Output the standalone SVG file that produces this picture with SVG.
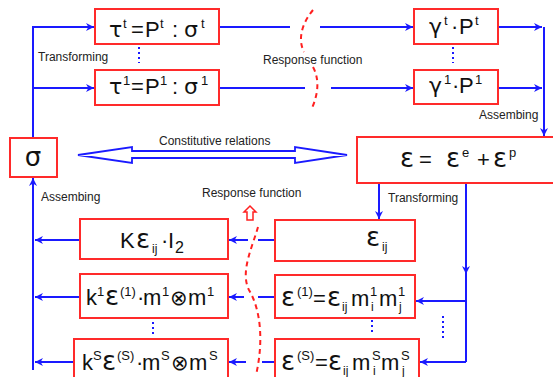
<svg xmlns="http://www.w3.org/2000/svg" width="553" height="377" viewBox="0 0 553 377">
<defs>
<marker id="ah" viewBox="0 0 10 10" refX="10" refY="5" markerWidth="9" markerHeight="8" orient="auto" markerUnits="userSpaceOnUse"><path d="M0,0 L10,5 L0,10 L3,5 z" fill="#1a1aff"/></marker>
<style>
.box{fill:#fff;stroke:#ff2a2a;stroke-width:2}
.ln{stroke:#1a1aff;stroke-width:2;fill:none}
.ar{marker-end:url(#ah)}
.red{stroke:#ff2020;stroke-width:2;stroke-dasharray:5,4;fill:none}
.dots{stroke:#1a1aff;stroke-width:2;stroke-dasharray:2,3}
.lbl{font-family:"Liberation Sans",Arial,sans-serif;font-size:12px;fill:#222}
.f{font-family:"Liberation Sans","DejaVu Sans",sans-serif;font-size:22px;fill:#111}
.gk{font-family:"DejaVu Sans",sans-serif;font-size:22px}
.g{font-family:"DejaVu Sans",sans-serif;font-size:26px}
.sp{font-size:13px}
.sb{font-size:12px}
.ot{font-family:"DejaVu Sans",sans-serif;font-size:21px}
</style>
</defs>
<rect width="553" height="377" fill="#fff"/>
<g id="connectors">
<path class="ln" d="M33 138 V27 H94"/>
<path class="ln ar" d="M33 27 H94"/>
<path class="ln ar" d="M33 88 H94"/>
<path class="ln ar" d="M33 370 V178"/>
<path class="ln ar" d="M80 240 H35"/>
<path class="ln ar" d="M80 297 H35"/>
<path class="ln ar" d="M74 362 H35"/>
<path class="ln" d="M219 27 H290"/>
<path class="ln ar" d="M320 27 H413"/>
<path class="ln" d="M219 88 H305"/>
<path class="ln ar" d="M331 88 H413"/>
<path class="ln ar" d="M498 27 H542"/>
<path class="ln ar" d="M498 88 H542"/>
<path class="ln ar" d="M544 27 V136"/>
<path class="ln ar" d="M379 183 V219"/>
<path class="ln ar" d="M466 183 V274"/>
<path class="ln" d="M466 272 V362"/>
<path class="ln ar" d="M466 301 H416"/>
<path class="ln ar" d="M466 362 H420"/>
<path class="ln" d="M275 240 H258"/>
<path class="ln ar" d="M248 240 H229"/>
<path class="ln" d="M275 297 H258"/>
<path class="ln ar" d="M244 297 H229"/>
<path class="ln" d="M275 362 H262"/>
<path class="ln ar" d="M246 362 H229"/>
<polygon points="78,155 132,147 132,151 295,151 295,147 347,155 295,163 295,158 132,158 132,163" fill="#fff" stroke="#1a1aff" stroke-width="1.8" stroke-linejoin="miter"/>
<path class="red" d="M313 10 C303 22, 297 38, 304 52"/>
<path class="red" d="M313 67 C319 78, 319 92, 312 108"/>
<path class="red" d="M258 227 C252 248, 240 272, 249 290 C262 312, 263 345, 256 375"/>
<polygon points="250,206 256,212 253,212 253,220 247,220 247,212 244,212" fill="#fff" stroke="#ff2020" stroke-width="1.5"/>
<path class="dots" d="M139 47 V63"/>
<path class="dots" d="M453 47 V63"/>
<path class="dots" d="M153 322 V334"/>
<path class="dots" d="M372 320 V335"/>
<path class="dots" d="M443 316 V341"/>
</g>
<g id="labels">
<text class="lbl" x="38" y="61">Transforming</text>
<text class="lbl" x="263" y="64">Response function</text>
<text class="lbl" x="479" y="119">Assembing</text>
<text class="lbl" x="159" y="145">Constitutive relations</text>
<text class="lbl" x="41" y="201">Assembing</text>
<text class="lbl" x="202" y="197">Response function</text>
<text class="lbl" x="388" y="202">Transforming</text>
</g>
<g id="tau-t">
<rect class="box" x="95" y="9" width="124" height="35"/>
<text class="f"><tspan class="gk" x="109" y="37">τ</tspan><tspan class="sp" x="123" y="28">t</tspan><tspan x="131" y="37">=</tspan><tspan x="145" y="37">P</tspan><tspan class="sp" x="160" y="28">t</tspan><tspan x="172" y="37">:</tspan><tspan class="gk" x="184" y="37">σ</tspan><tspan class="sp" x="201" y="28">t</tspan></text>
</g>
<g id="tau-1">
<rect class="box" x="95" y="70" width="124" height="35"/>
<text class="f"><tspan class="gk" x="109" y="94">τ</tspan><tspan class="sp" x="123" y="85">1</tspan><tspan x="131" y="94">=</tspan><tspan x="145" y="94">P</tspan><tspan class="sp" x="160" y="85">1</tspan><tspan x="172" y="94">:</tspan><tspan class="gk" x="184" y="94">σ</tspan><tspan class="sp" x="201" y="85">1</tspan></text>
</g>
<g id="gamma-t">
<rect class="box" x="414" y="9" width="84" height="35"/>
<text class="f"><tspan class="gk" x="429" y="34">γ</tspan><tspan class="sp" x="444" y="25">t</tspan><tspan x="451" y="34">·</tspan><tspan x="459" y="34">P</tspan><tspan class="sp" x="475" y="25">t</tspan></text>
</g>
<g id="gamma-1">
<rect class="box" x="414" y="70" width="84" height="34"/>
<text class="f"><tspan class="gk" x="429" y="93">γ</tspan><tspan class="sp" x="444" y="84">1</tspan><tspan x="452" y="93">·</tspan><tspan x="459" y="93">P</tspan><tspan class="sp" x="475" y="84">1</tspan></text>
</g>
<g id="sigma">
<rect class="box" x="10" y="138" width="47" height="39"/>
<text class="f" x="33" y="166" text-anchor="middle" style="font-family:'DejaVu Sans',sans-serif;font-size:26px">σ</text>
</g>
<g id="epsilon">
<rect class="box" x="357" y="137" width="200" height="46"/>
<text class="f"><tspan class="g" x="400" y="167">ε</tspan><tspan x="419" y="167">=</tspan><tspan class="g" x="446" y="167">ε</tspan><tspan class="sp" x="462" y="157">e</tspan><tspan x="477" y="167">+</tspan><tspan class="g" x="493" y="167">ε</tspan><tspan class="sp" x="509" y="157">p</tspan></text>
</g>
<g id="eps-ij">
<rect class="box" x="275" y="220" width="140" height="41"/>
<text class="f"><tspan class="g" x="366" y="246">ε</tspan><tspan class="sb" x="382" y="251">ij</tspan></text>
</g>
<g id="eps-1">
<rect class="box" x="275" y="275" width="140" height="43"/>
<text class="f"><tspan class="g" x="281" y="306">ε</tspan><tspan class="sp" x="297" y="296">(1)</tspan><tspan x="313" y="306">=</tspan><tspan class="g" x="327" y="306">ε</tspan><tspan class="sb" x="342" y="311">ij</tspan><tspan x="351" y="306">m</tspan><tspan class="sp" x="370" y="296">1</tspan><tspan class="sb" x="371" y="311">i</tspan><tspan x="379" y="306">m</tspan><tspan class="sp" x="398" y="296">1</tspan><tspan class="sb" x="399" y="311">j</tspan></text>
</g>
<g id="eps-S">
<rect class="box" x="275" y="339" width="144" height="45"/>
<text class="f"><tspan class="g" x="281" y="370">ε</tspan><tspan class="sp" x="297" y="360">(S)</tspan><tspan x="315" y="370">=</tspan><tspan class="g" x="328" y="370">ε</tspan><tspan class="sb" x="343" y="375">ij</tspan><tspan x="352" y="370">m</tspan><tspan class="sp" x="372" y="360">S</tspan><tspan class="sb" x="373" y="375">i</tspan><tspan x="381" y="370">m</tspan><tspan class="sp" x="401" y="360">S</tspan><tspan class="sb" x="402" y="375">j</tspan></text>
</g>
<g id="K-eps">
<rect class="box" x="80" y="219" width="148" height="40"/>
<text class="f"><tspan x="120" y="248">K</tspan><tspan class="g" x="136" y="248">ε</tspan><tspan class="sb" x="152" y="253">ij</tspan><tspan x="161" y="248">·</tspan><tspan x="168" y="248">I</tspan><tspan style="font-size:16px" x="175" y="253">2</tspan></text>
</g>
<g id="k-1">
<rect class="box" x="80" y="274" width="148" height="44"/>
<text class="f"><tspan x="86" y="305">k</tspan><tspan class="sp" x="97" y="296">1</tspan><tspan class="g" x="105" y="305">ε</tspan><tspan class="sp" x="120" y="296">(1)</tspan><tspan x="137" y="305">·</tspan><tspan x="143" y="305">m</tspan><tspan class="sp" x="162" y="296">1</tspan><tspan class="ot" x="170" y="305">⊗</tspan><tspan x="188" y="305">m</tspan><tspan class="sp" x="207" y="296">1</tspan></text>
</g>
<g id="k-S">
<rect class="box" x="74" y="339" width="154" height="45"/>
<text class="f"><tspan x="82" y="370">k</tspan><tspan class="sp" x="93" y="360">S</tspan><tspan class="g" x="102" y="370">ε</tspan><tspan class="sp" x="117" y="360">(S)</tspan><tspan x="136" y="370">·</tspan><tspan x="142" y="370">m</tspan><tspan class="sp" x="161" y="360">S</tspan><tspan class="ot" x="171" y="370">⊗</tspan><tspan x="189" y="370">m</tspan><tspan class="sp" x="209" y="360">S</tspan></text>
</g>
</svg>
